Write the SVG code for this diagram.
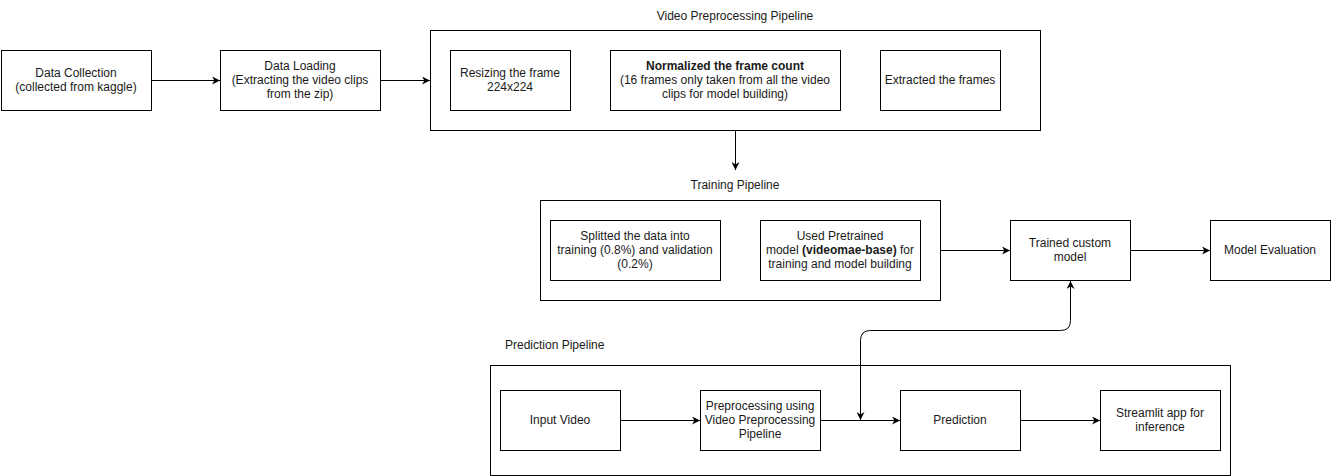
<svg xmlns="http://www.w3.org/2000/svg" width="1331" height="476" viewBox="0 0 1331 476">
<style>
.box{fill:#fff;stroke:#000;stroke-width:1}
.cont{fill:#fff;stroke:#000;stroke-width:1}
text{font-family:"Liberation Sans",Arial,sans-serif;font-size:12px;fill:#1a1a1a;text-anchor:middle}
.lbl{text-anchor:start}
.b{font-weight:bold}
.edge{fill:none;stroke:#000;stroke-width:1}
</style>
<defs>
<marker id="arr" viewBox="0 0 10 10" refX="10" refY="5" markerWidth="8" markerHeight="8" markerUnits="userSpaceOnUse" orient="auto-start-reverse">
<path d="M0,0 L10,5 L0,10 L3,5 z" fill="#000"/>
</marker>
</defs>
<rect width="1331" height="476" fill="#fff"/>

<g id="video-preprocessing-pipeline">
<rect class="cont" x="430.5" y="30.5" width="610" height="100"/>
<text x="735" y="20">Video Preprocessing Pipeline</text>
</g>
<g id="training-pipeline">
<rect class="cont" x="540.5" y="200.5" width="400" height="100"/>
<text x="735" y="189">Training Pipeline</text>
</g>
<g id="prediction-pipeline">
<rect class="cont" x="490.5" y="365.5" width="740" height="110"/>
<text class="lbl" x="505" y="349">Prediction Pipeline</text>
</g>

<g id="data-collection">
<rect class="box" x="1.5" y="50.5" width="150" height="60"/>
<text x="76" y="77">Data Collection</text>
<text x="76" y="91">(collected from kaggle)</text>
</g>
<g id="data-loading">
<rect class="box" x="220.5" y="50.5" width="160" height="60"/>
<text x="300" y="70">Data Loading</text>
<text x="300" y="84">(Extracting the video clips</text>
<text x="300" y="98">from the zip)</text>
</g>
<g id="resizing">
<rect class="box" x="450.5" y="50.5" width="120" height="60"/>
<text x="510" y="77">Resizing the frame</text>
<text x="510" y="91">224x224</text>
</g>
<g id="normalized">
<rect class="box" x="610.5" y="50.5" width="230" height="60"/>
<text class="b" x="725" y="70">Normalized the frame count</text>
<text x="725" y="84">(16 frames only taken from all the video</text>
<text x="725" y="98">clips for model building)</text>
</g>
<g id="extracted">
<rect class="box" x="880.5" y="50.5" width="120" height="60"/>
<text x="940" y="84">Extracted the frames</text>
</g>
<g id="splitted">
<rect class="box" x="550.5" y="220.5" width="170" height="60"/>
<text x="635" y="240">Splitted the data into</text>
<text x="635" y="254">training (0.8%) and validation</text>
<text x="635" y="268">(0.2%)</text>
</g>
<g id="pretrained">
<rect class="box" x="760.5" y="220.5" width="160" height="60"/>
<text x="840" y="240">Used Pretrained</text>
<text x="840" y="254">model <tspan class="b">(videomae-base)</tspan> for</text>
<text x="840" y="268">training and model building</text>
</g>
<g id="trained-model">
<rect class="box" x="1010.5" y="220.5" width="120" height="60"/>
<text x="1070" y="247">Trained custom</text>
<text x="1070" y="261">model</text>
</g>
<g id="model-evaluation">
<rect class="box" x="1210.5" y="220.5" width="120" height="60"/>
<text x="1270" y="254">Model Evaluation</text>
</g>
<g id="input-video">
<rect class="box" x="500.5" y="390.5" width="120" height="60"/>
<text x="560" y="424">Input Video</text>
</g>
<g id="preprocessing">
<rect class="box" x="700.5" y="390.5" width="120" height="60"/>
<text x="760" y="410">Preprocessing using</text>
<text x="760" y="424">Video Preprocessing</text>
<text x="760" y="438">Pipeline</text>
</g>
<g id="prediction">
<rect class="box" x="900.5" y="390.5" width="120" height="60"/>
<text x="960" y="424">Prediction</text>
</g>
<g id="streamlit">
<rect class="box" x="1100.5" y="390.5" width="120" height="60"/>
<text x="1160" y="417">Streamlit app for</text>
<text x="1160" y="431">inference</text>
</g>

<g id="connectors">
<path class="edge" d="M151.5,80.5 H220" marker-end="url(#arr)"/>
<path class="edge" d="M380.5,80.5 H430" marker-end="url(#arr)"/>
<path class="edge" d="M735.5,130.5 V170" marker-end="url(#arr)"/>
<path class="edge" d="M940.5,250.5 H1010" marker-end="url(#arr)"/>
<path class="edge" d="M1130.5,250.5 H1210" marker-end="url(#arr)"/>
<path class="edge" d="M620.5,420.5 H700" marker-end="url(#arr)"/>
<path class="edge" d="M820.5,420.5 H900" marker-end="url(#arr)"/>
<path class="edge" d="M1020.5,420.5 H1100" marker-end="url(#arr)"/>
<path class="edge" d="M860.5,420 V340.5 Q860.5,330.5 870.5,330.5 H1060.5 Q1070.5,330.5 1070.5,320.5 V281" marker-start="url(#arr)" marker-end="url(#arr)"/>
</g>
</svg>
